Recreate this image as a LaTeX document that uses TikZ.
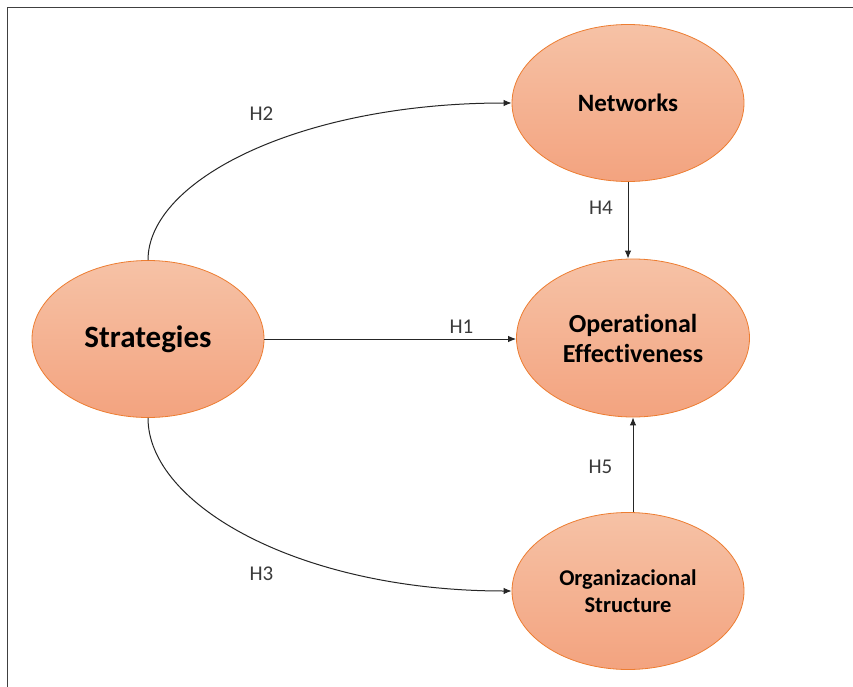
\documentclass[tikz,border=0pt]{standalone}
\usepackage{fontspec}
\setmainfont[Ligatures={NoCommon,NoContextual}]{Carlito}
\usetikzlibrary{shapes.geometric,arrows.meta}

\definecolor{ovalTop}{HTML}{F6C2A6}
\definecolor{ovalBottom}{HTML}{F3A37F}
\definecolor{ovalLine}{HTML}{ED7D31}
\definecolor{labelGray}{HTML}{3A3A3A}

\tikzset{
  construct/.style={ellipse, draw=ovalLine, line width=0.8pt,
    top color=ovalTop, bottom color=ovalBottom,
    minimum width=232pt, minimum height=157pt, inner sep=0pt,
    align=center, font=\bfseries, text=black},
  link/.style={draw=black!85, line width=1pt,
    -{Latex[length=8pt,width=6.5pt]}},
  hyp/.style={text=labelGray, font=\fontsize{21}{25}\selectfont, inner sep=0pt},
  frameline/.style={draw=black!75, line width=1.3pt}
}

\begin{document}
\begin{tikzpicture}[x=1pt,y=-1pt]
  \useasboundingbox (0,0) rectangle (853,687);
  \fill[white] (0,0) rectangle (853,687);

  % outer frame (top and left edges)
  \draw[frameline] (7.5,687) -- (7.5,7.5) -- (853,7.5);

  % constructs
  \node[construct, font=\bfseries\fontsize{31}{36}\selectfont] (strat) at (148,339) {Strategies};
  \node[construct, font=\bfseries\fontsize{25}{30}\selectfont] (net) at (628,103) {Networks};
  \node[construct, minimum width=233pt, minimum height=158pt,
        font=\bfseries\fontsize{26}{30}\selectfont] (oe) at (633,338) {Operational\\Effectiveness};
  \node[construct, font=\bfseries\fontsize{22.5}{27}\selectfont] (org) at (628,591) {Organizacional\\Structure};

  % hypotheses
  \draw[link] (strat.east) -- (strat.east -| oe.west);
  \draw[link] (strat.north) .. controls (148,180) and (300,103) .. (net.west);
  \draw[link] (strat.south) .. controls (148,505) and (300,591) .. (org.west);
  \draw[link] (net.south) -- (net.south |- oe.north);
  \draw[link] (oe.south |- org.north) -- (oe.south);

  % hypothesis labels
  \node[hyp] (h1) at (461.5,327) {H1};
  \node[hyp] (h2) at (261.5,114) {H2};
  \node[hyp] (h3) at (261.5,573.5) {H3};
  \node[hyp] (h4) at (601,208) {H4};
  \node[hyp] (h5) at (600.5,467) {H5};
\end{tikzpicture}
\end{document}
